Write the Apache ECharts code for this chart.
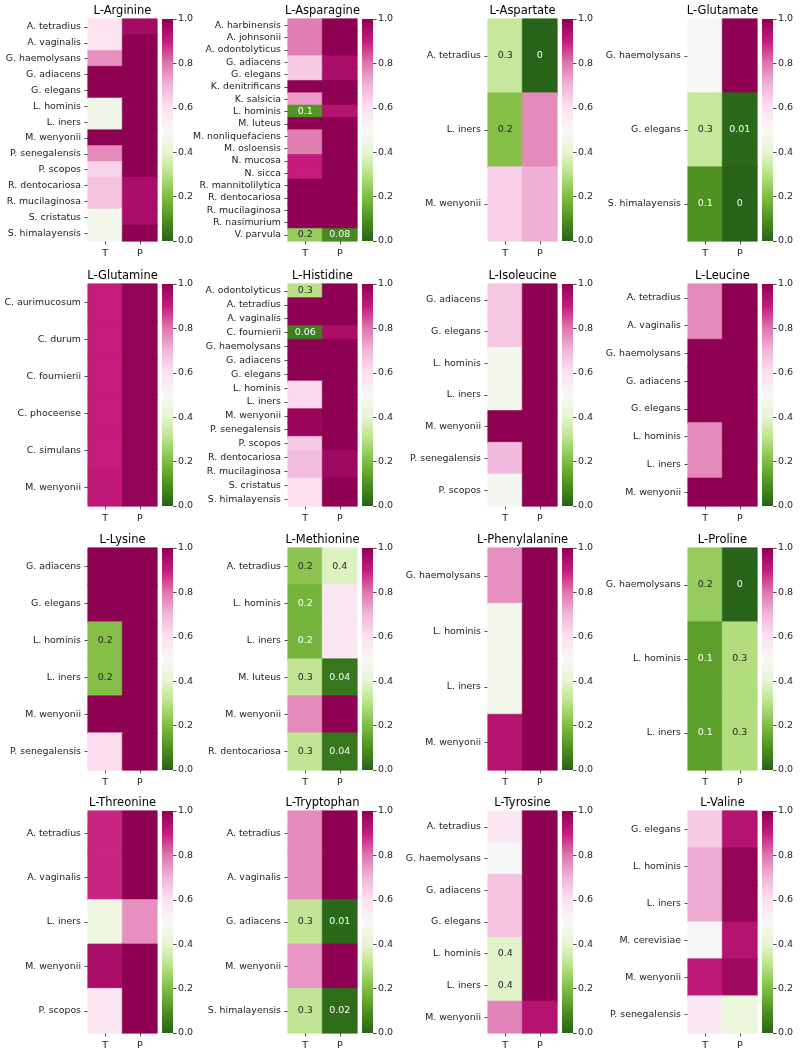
<!DOCTYPE html>
<html><head><meta charset="utf-8">
<script src="https://cdn.jsdelivr.net/npm/echarts@6/dist/echarts.min.js"></script>
<style>html,body{margin:0;padding:0;background:#fff}#c{width:800px;height:1055px}</style>
</head><body><div id="c"></div>
<script>
// ---- data ----
const cols = ['T', 'P'];
const cbTicks = [0, 0.2, 0.4, 0.6, 0.8, 1.0];

const argSpecies = ['A. tetradius','A. vaginalis','G. haemolysans','G. adiacens','G. elegans','L. hominis','L. iners','M. wenyonii','P. senegalensis','P. scopos','R. dentocariosa','R. mucilaginosa','S. cristatus','S. himalayensis'];
const argT = [0.58,0.58,0.76,1,1,0.46,0.46,1,0.77,0.63,0.67,0.67,0.47,0.47];
const argP = [0.96,1,1,1,1,1,1,1,1,1,0.95,0.95,0.95,1];

const asnSpecies = ['A. harbinensis','A. johnsonii','A. odontolyticus','G. adiacens','G. elegans','K. denitrificans','K. salsicia','L. hominis','M. luteus','M. nonliquefaciens','M. osloensis','N. mucosa','N. sicca','R. mannitolilytica','R. dentocariosa','R. mucilaginosa','R. nasimurium','V. parvula'];
const asnT = [0.79,0.79,0.79,0.65,0.65,1,0.74,0.11,1,0.79,0.79,0.9,0.9,1,1,1,1,0.24];
const asnP = [1,1,1,0.95,0.95,1,1,0.93,1,1,1,1,1,1,1,1,1,0.08];

const aspSpecies = ['A. tetradius','L. iners','M. wenyonii'];
const aspT = [0.33,0.21,0.64];
const aspP = [0,0.77,0.71];

const gluSpecies = ['G. haemolysans','G. elegans','S. himalayensis'];
const gluT = [0.5,0.33,0.1];
const gluP = [1,0.01,0];

const glnSpecies = ['C. aurimucosum','C. durum','C. fournierii','C. phoceense','C. simulans','M. wenyonii'];
const glnT = [0.9,0.9,0.9,0.9,0.9,0.91];
const glnP = [0.99,0.99,0.99,0.99,0.99,0.99];

const hisSpecies = ['A. odontolyticus','A. tetradius','A. vaginalis','C. fournierii','G. haemolysans','G. adiacens','G. elegans','L. hominis','L. iners','M. wenyonii','P. senegalensis','P. scopos','R. dentocariosa','R. mucilaginosa','S. cristatus','S. himalayensis'];
const hisT = [0.3,1,1,0.06,1,1,1,0.62,0.62,0.98,0.98,0.65,0.68,0.68,0.6,0.6];
const hisP = [1,1,1,0.95,1,1,1,1,1,1,1,1,0.97,0.97,1,1];

const ileSpecies = ['G. adiacens','G. elegans','L. hominis','L. iners','M. wenyonii','P. senegalensis','P. scopos'];
const ileT = [0.66,0.66,0.47,0.47,1,0.69,0.48];
const ileP = [1,1,1,1,1,1,1];

const leuSpecies = ['A. tetradius','A. vaginalis','G. haemolysans','G. adiacens','G. elegans','L. hominis','L. iners','M. wenyonii'];
const leuT = [0.77,0.77,1,1,1,0.77,0.77,1];
const leuP = [1,1,1,1,1,1,1,1];

const lysSpecies = ['G. adiacens','G. elegans','L. hominis','L. iners','M. wenyonii','P. senegalensis'];
const lysT = [1,1,0.21,0.21,1,0.61];
const lysP = [1,1,1,1,1,1];

const metSpecies = ['A. tetradius','L. hominis','L. iners','M. luteus','M. wenyonii','R. dentocariosa'];
const metT = [0.22,0.18,0.18,0.32,0.77,0.32];
const metP = [0.38,0.57,0.57,0.04,1,0.04];

const pheSpecies = ['G. haemolysans','L. hominis','L. iners','M. wenyonii'];
const pheT = [0.76,0.47,0.47,0.93];
const pheP = [1,1,1,1];

const proSpecies = ['G. haemolysans','L. hominis','L. iners'];
const proT = [0.24,0.13,0.13];
const proP = [0,0.29,0.29];

const thrSpecies = ['A. tetradius','A. vaginalis','L. iners','M. wenyonii','P. scopos'];
const thrT = [0.89,0.89,0.44,0.95,0.57];
const thrP = [1,1,0.76,1,1];

const trpSpecies = ['A. tetradius','A. vaginalis','G. adiacens','M. wenyonii','S. himalayensis'];
const trpT = [0.77,0.77,0.32,0.75,0.32];
const trpP = [1,1,0.01,1,0.02];

const tyrSpecies = ['A. tetradius','G. haemolysans','G. adiacens','G. elegans','L. hominis','L. iners','M. wenyonii'];
const tyrT = [0.57,0.5,0.67,0.67,0.39,0.39,0.78];
const tyrP = [1,1,1,1,1,1,0.93];

const valSpecies = ['G. elegans','L. hominis','L. iners','M. cerevisiae','M. wenyonii','P. senegalensis'];
const valT = [0.65,0.72,0.72,0.5,0.91,0.57];
const valP = [0.93,0.99,0.99,0.93,0.97,0.43];

const titles = ['L-Arginine','L-Asparagine','L-Aspartate','L-Glutamate','L-Glutamine','L-Histidine','L-Isoleucine','L-Leucine','L-Lysine','L-Methionine','L-Phenylalanine','L-Proline','L-Threonine','L-Tryptophan','L-Tyrosine','L-Valine'];
const speciesLists = [argSpecies,asnSpecies,aspSpecies,gluSpecies,glnSpecies,hisSpecies,ileSpecies,leuSpecies,lysSpecies,metSpecies,pheSpecies,proSpecies,thrSpecies,trpSpecies,tyrSpecies,valSpecies];
const tLists = [argT,asnT,aspT,gluT,glnT,hisT,ileT,leuT,lysT,metT,pheT,proT,thrT,trpT,tyrT,valT];
const pLists = [argP,asnP,aspP,gluP,glnP,hisP,ileP,leuP,lysP,metP,pheP,proP,thrP,trpP,tyrP,valP];

// ---- style ----
const cmap = ['#276419','#4d9221','#7fbc41','#b8e186','#e6f5d0','#f7f7f7','#fde0ef','#f1b6da','#de77ae','#c51b7d','#8e0152'];
const FONT = '"DejaVu Sans", sans-serif';
const TXT = '#222';
const colX0 = 88, colStep = 200, heatW = 69, heatH = 222;
const rowTops = [19, 284, 548, 811];
const cbOff = 74, cbW = 11;
const annotMax = 0.42, whiteBelow = 0.2;

function fmt(v) { return String(Number(v.toPrecision(1))); }

const chart = echarts.init(document.getElementById('c'), null, {renderer: 'canvas'});
const N = titles.length;
const title = [], grid = [], xAxis = [], yAxis = [], series = [];
const tickStyle = {show: true, alignWithLabel: true, length: 3.5, lineStyle: {color: TXT, width: 0.8}};

for (let i = 0; i < N; i++) {
  const c = i % 4, r = Math.floor(i / 4);
  const left = colX0 + c * colStep, top = rowTops[r];
  title.push({text: titles[i], left: left + heatW / 2, top: top - 13.5, textAlign: 'center', padding: 0,
    textStyle: {fontSize: 11.5, fontWeight: 'normal', color: '#000', fontFamily: FONT}});
  grid.push({left: left, top: top, width: heatW, height: heatH});
  xAxis.push({gridIndex: i, type: 'category', data: cols, axisLine: {show: false}, axisTick: tickStyle,
    axisLabel: {fontSize: 9.5, color: TXT, margin: 7.5, fontFamily: FONT}, splitLine: {show: false}});
  yAxis.push({gridIndex: i, type: 'category', data: speciesLists[i], inverse: true, axisLine: {show: false}, axisTick: tickStyle,
    axisLabel: {fontSize: 9.4, color: TXT, margin: 7, fontFamily: FONT}, splitLine: {show: false}});
  const data = [];
  speciesLists[i].forEach((s, yi) => {
    [tLists[i][yi], pLists[i][yi]].forEach((v, xi) => {
      const show = v < annotMax;
      data.push({value: [xi, yi, v],
        itemStyle: {borderColor: echarts.color.lerp(v, cmap), borderWidth: 0.6},
        label: {show: show, formatter: fmt(v), color: v < whiteBelow ? '#fff' : '#262626', fontSize: 9.5, fontFamily: FONT}});
    });
  });
  series.push({type: 'heatmap', xAxisIndex: i, yAxisIndex: i, data: data, silent: true});
}
const stops = cmap.map((col, k) => ({offset: k / (cmap.length - 1), color: col}));
for (let i = 0; i < N; i++) {
  const c = i % 4, r = Math.floor(i / 4);
  const left = colX0 + c * colStep + cbOff, top = rowTops[r];
  const gi = N + i;
  grid.push({left: left, top: top, width: cbW, height: heatH});
  xAxis.push({gridIndex: gi, type: 'category', data: [''], show: false});
  yAxis.push({gridIndex: gi, type: 'value', min: cbTicks[0], max: cbTicks[cbTicks.length - 1], interval: cbTicks[1] - cbTicks[0], position: 'right',
    axisLine: {show: false}, axisTick: {show: true, length: 3.5, lineStyle: {color: TXT, width: 0.8}},
    axisLabel: {fontSize: 9.5, color: TXT, margin: 5, fontFamily: FONT, formatter: v => v.toFixed(1)}, splitLine: {show: false}});
  series.push({type: 'bar', xAxisIndex: gi, yAxisIndex: gi, data: [cbTicks[cbTicks.length - 1]], barWidth: '100%', silent: true,
    itemStyle: {color: {type: 'linear', x: 0, y: 1, x2: 0, y2: 0, colorStops: stops}}});
}

chart.setOption({
  animation: false,
  backgroundColor: '#fff',
  textStyle: {fontFamily: FONT},
  title: title, grid: grid, xAxis: xAxis, yAxis: yAxis,
  visualMap: {type: 'continuous', show: false, min: 0, max: 1, seriesIndex: Array.from({length: N}, (_, k) => k), inRange: {color: cmap}},
  series: series
});
</script></body></html>
